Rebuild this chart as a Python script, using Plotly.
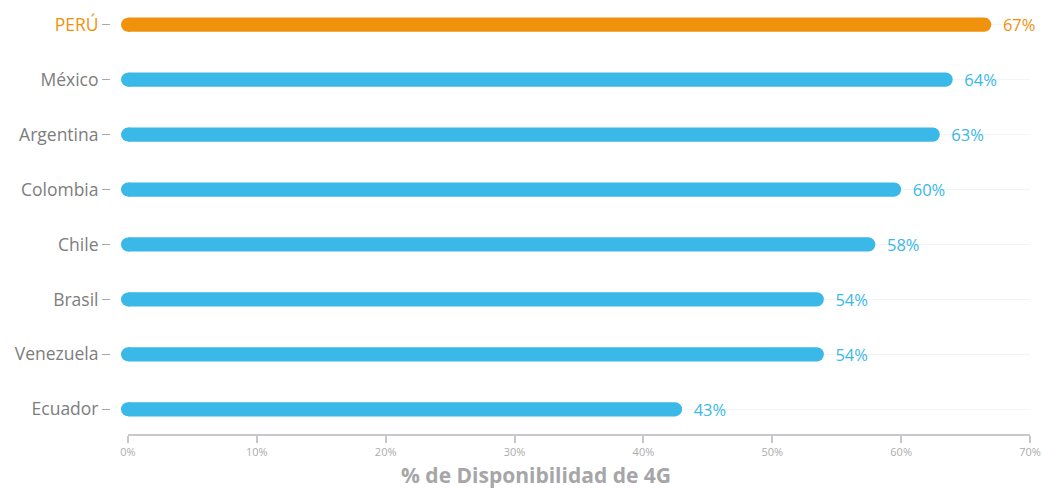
import plotly.graph_objects as go

# Availability of 4G by country (%)
countries = ["PERÚ", "México", "Argentina", "Colombia", "Chile", "Brasil", "Venezuela", "Ecuador"]
availability = [67, 64, 63, 60, 58, 54, 54, 43]
highlight = "PERÚ"

x_ticks = [0, 10, 20, 30, 40, 50, 60, 70]
x_tick_labels = [f"{v}%" for v in x_ticks]

ORANGE = "#F0920C"
BLUE = "#3AB8E8"
GRAY_LABEL = "#7d7d7d"
FONT = "'Open Sans', Lato, sans-serif"

colors = [ORANGE if c == highlight else BLUE for c in countries]
tick_text = [
    f'<span style="color:{ORANGE}">{c}</span>' if c == highlight else c
    for c in countries
]

W, H = 1042, 490
x0_px, x1_px = 128, 1030
axis_y_px = 434.5
margin_b = H - axis_y_px

fig = go.Figure()

fig.add_trace(go.Bar(
    y=countries,
    x=availability,
    orientation="h",
    width=0.26,
    marker=dict(color=colors, cornerradius="50%", line=dict(width=0)),
    text=[f"  {v}%" for v in availability],
    textposition="outside",
    constraintext="none",
    textfont=dict(color=colors, size=16.5, family=FONT),
    cliponaxis=False,
    hoverinfo="skip",
))

# rounded caps at the baseline of each bar
fig.add_trace(go.Scatter(
    y=countries,
    x=[0] * len(countries),
    mode="markers",
    marker=dict(color=colors, size=14, line=dict(width=0)),
    cliponaxis=False,
    hoverinfo="skip",
))

fig.update_layout(
    width=W,
    height=H,
    margin=dict(l=0, r=0, t=0, b=margin_b, pad=0, autoexpand=False),
    paper_bgcolor="white",
    plot_bgcolor="white",
    showlegend=False,
    bargap=0.74,
    font=dict(family=FONT),
    xaxis=dict(
        domain=[x0_px / W, x1_px / W],
        range=[0, 70],
        automargin=False,
        tickvals=x_ticks,
        ticktext=x_tick_labels,
        tickfont=dict(size=11, color="#acacac"),
        ticks="outside",
        ticklen=7,
        tickwidth=1.5,
        tickcolor="#c8c8cc",
        showline=True,
        linecolor="#c8c8cc",
        linewidth=1.5,
        showgrid=False,
        zeroline=False,
        fixedrange=True,
    ),
    yaxis=dict(
        range=[7.45, -0.45],
        automargin=False,
        tickvals=countries,
        ticktext=tick_text,
        tickfont=dict(size=17.5, color=GRAY_LABEL),
        ticks="outside",
        ticklen=8,
        tickwidth=1.2,
        tickcolor="#a8a8a8",
        anchor="free",
        position=110 / W,
        showline=False,
        showgrid=True,
        gridcolor="#f4f4f6",
        gridwidth=1,
        zeroline=False,
        fixedrange=True,
    ),
)

fig.add_annotation(
    text="<b>% de Disponibilidad de 4G</b>",
    xref="paper", yref="paper",
    x=536 / W, y=-(475.5 - axis_y_px) / axis_y_px,
    xanchor="center", yanchor="middle",
    showarrow=False,
    font=dict(size=21, color="#a6a6a8", family=FONT),
)

fig.write_html("out.html")
